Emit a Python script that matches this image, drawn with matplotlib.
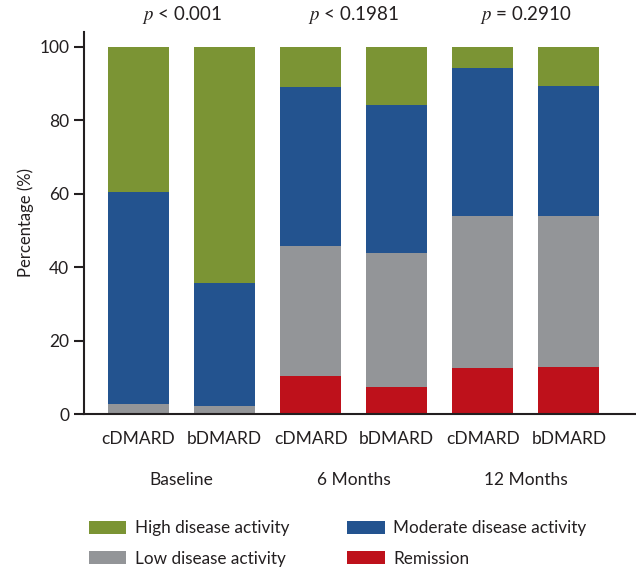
import matplotlib.pyplot as plt
import numpy as np

bar_labels = ['cDMARD', 'bDMARD', 'cDMARD', 'bDMARD', 'cDMARD', 'bDMARD']
groups = ['Baseline', '6 Months', '12 Months']
p_values = ['< 0.001', '< 0.1981', '= 0.2910']

remission = [0, 0, 10.4, 7.4, 12.5, 12.8]
low = [2.7, 2.2, 35.4, 36.5, 41.5, 41.2]
moderate = [57.8, 33.5, 43.3, 40.3, 40.3, 35.4]
high = [39.5, 64.3, 10.9, 15.8, 5.7, 10.6]

colors = {'High disease activity': '#7b9434',
          'Moderate disease activity': '#23538f',
          'Low disease activity': '#939598',
          'Remission': '#be111b'}

plt.rcParams['font.family'] = ['Lato', 'DejaVu Sans']
plt.rcParams['mathtext.fontset'] = 'stix'
txt = '#231f20'

fig = plt.figure(figsize=(6.36, 5.69), dpi=100)
ax = fig.add_axes([0.132, 0.2724, 0.868, 0.6716])

x = np.arange(len(bar_labels))
w = 0.71
bottom = np.zeros(len(x))
bars = {}
for name, vals in [('Remission', remission), ('Low disease activity', low),
                   ('Moderate disease activity', moderate), ('High disease activity', high)]:
    bars[name] = ax.bar(x, vals, w, bottom=bottom, color=colors[name], label=name)
    bottom += np.array(vals)

ax.set_xlim(-0.634, 5.78)
ax.set_ylim(0, 104)
ax.set_yticks([0, 20, 40, 60, 80, 100])
ax.tick_params(axis='y', labelsize=12.5, length=7, width=1.5, color=txt, labelcolor=txt)
ax.tick_params(axis='x', length=0, labelsize=12.5, labelcolor=txt, pad=12)
ax.set_xticks(x)
ax.set_xticklabels(bar_labels)
ax.set_ylabel('Percentage (%)', fontsize=12, color=txt)
for s in ['top', 'right']:
    ax.spines[s].set_visible(False)
for s in ['left', 'bottom']:
    ax.spines[s].set_color(txt)
    ax.spines[s].set_linewidth(1.5)

for i, g in enumerate(groups):
    ax.text(2 * i + 0.5, -18, g, ha='center', va='center', fontsize=12.5, color=txt)
    ax.text(2 * i + 0.5, 108.5, '$p$ ' + p_values[i], ha='center', va='center',
            fontsize=13.5, color=txt)

handles = [bars['High disease activity'], bars['Low disease activity'],
           bars['Moderate disease activity'], bars['Remission']]
fig.legend(handles, [h.get_label() for h in handles], ncol=2, loc='lower left',
           bbox_to_anchor=(0.115, -0.023), frameon=False, fontsize=12.3,
           handlelength=2.2, handleheight=0.8, handletextpad=0.5,
           labelspacing=0.85, columnspacing=3.4, labelcolor=txt)

fig.savefig('out.png', dpi=100)
